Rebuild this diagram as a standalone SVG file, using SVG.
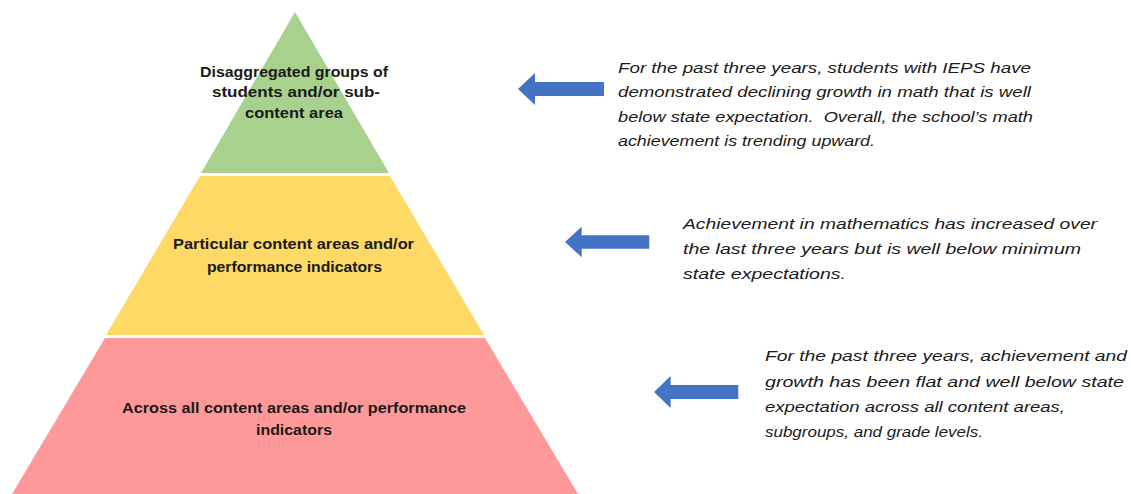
<svg xmlns="http://www.w3.org/2000/svg" width="1131" height="494" viewBox="0 0 1131 494">
<style>
.lbl{font-family:"Liberation Sans",Arial,sans-serif;font-weight:bold;font-size:14px;fill:#1a1a1a;text-anchor:start}
.note{font-family:"Liberation Sans",Arial,sans-serif;font-style:italic;font-size:15px;fill:#1a1a1a}
.arr{fill:#4472C4}
</style>
<defs>
<path id="arrowShape" d="M0,0 L17,-16 L17,-7 L86,-7 L86,7 L17,7 L17,16 Z"/>
</defs>
<rect width="1131" height="494" fill="#ffffff"/>
<g id="tier-top">
<polygon points="295,12 389,173 201,173" fill="#A9D18E"/>
<text class="lbl"><tspan x="200" y="77" textLength="188" lengthAdjust="spacingAndGlyphs">Disaggregated groups of</tspan><tspan x="212" y="97" textLength="168" lengthAdjust="spacingAndGlyphs">students and/or sub-</tspan><tspan x="245" y="118" textLength="98" lengthAdjust="spacingAndGlyphs">content area</tspan></text>
</g>
<g id="tier-middle">
<polygon points="200,176 390,176 484,335 106,335" fill="#FFD966"/>
<text class="lbl"><tspan x="173" y="249" textLength="241" lengthAdjust="spacingAndGlyphs">Particular content areas and/or</tspan><tspan x="207" y="272" textLength="175" lengthAdjust="spacingAndGlyphs">performance indicators</tspan></text>
</g>
<g id="tier-bottom">
<polygon points="105,338 485,338 578,494 12,494" fill="#FF9999"/>
<text class="lbl"><tspan x="122" y="413" textLength="344" lengthAdjust="spacingAndGlyphs">Across all content areas and/or performance</tspan><tspan x="256" y="435" textLength="76" lengthAdjust="spacingAndGlyphs">indicators</tspan></text>
</g>
<g id="connectors">
<use href="#arrowShape" class="arr" transform="translate(518,89)"/>
<use href="#arrowShape" class="arr" transform="translate(565,242) scale(0.98,0.95)"/>
<use href="#arrowShape" class="arr" transform="translate(654,392) scale(0.98,1)"/>
</g>
<g id="note-top">
<text class="note"><tspan x="618" y="73" textLength="413" lengthAdjust="spacingAndGlyphs">For the past three years, students with IEPS have</tspan><tspan x="618" y="97" textLength="413" lengthAdjust="spacingAndGlyphs">demonstrated declining growth in math that is well</tspan><tspan x="618" y="122" textLength="415" lengthAdjust="spacingAndGlyphs" xml:space="preserve">below state expectation.  Overall, the school’s math</tspan><tspan x="618" y="146" textLength="257" lengthAdjust="spacingAndGlyphs">achievement is trending upward.</tspan></text>
</g>
<g id="note-middle">
<text class="note"><tspan x="683" y="229" textLength="414" lengthAdjust="spacingAndGlyphs">Achievement in mathematics has increased over</tspan><tspan x="683" y="254" textLength="398" lengthAdjust="spacingAndGlyphs">the last three years but is well below minimum</tspan><tspan x="683" y="279" textLength="163" lengthAdjust="spacingAndGlyphs">state expectations.</tspan></text>
</g>
<g id="note-bottom">
<text class="note"><tspan x="765" y="361" textLength="362" lengthAdjust="spacingAndGlyphs">For the past three years, achievement and</tspan><tspan x="765" y="387" textLength="359" lengthAdjust="spacingAndGlyphs">growth has been flat and well below state</tspan><tspan x="765" y="412" textLength="300" lengthAdjust="spacingAndGlyphs">expectation across all content areas,</tspan><tspan x="765" y="437" textLength="218" lengthAdjust="spacingAndGlyphs">subgroups, and grade levels.</tspan></text>
</g>
</svg>
